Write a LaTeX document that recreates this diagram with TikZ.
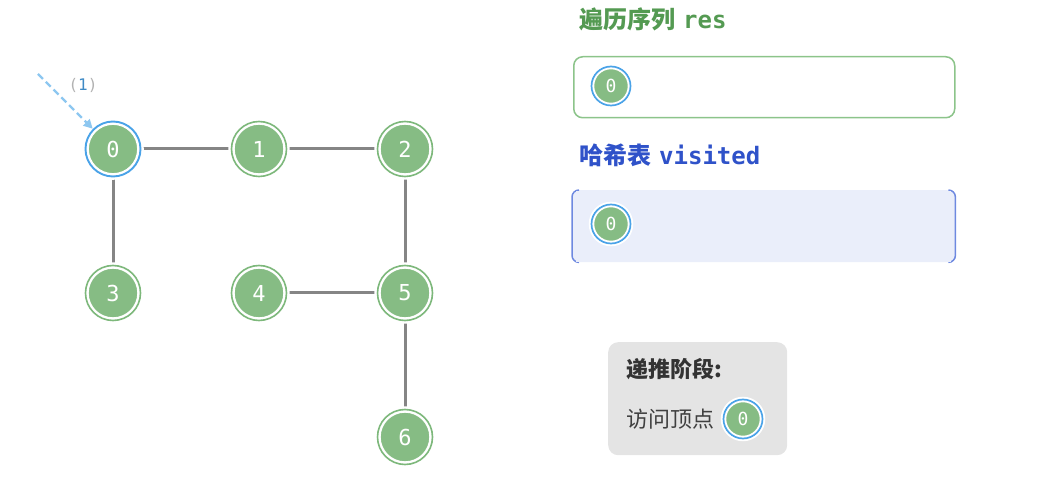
\documentclass[tikz,border=0pt]{standalone}
\usepackage{fontspec}
\setmainfont{Noto Sans CJK SC}
\setmonofont{DejaVu Sans Mono}
\newfontfamily\cjk{Noto Sans CJK SC}
\usetikzlibrary{arrows.meta}
\definecolor{vgreen}{HTML}{86BC84}
\definecolor{vring}{HTML}{7DB87B}
\definecolor{vblue}{HTML}{4AA3E8}
\definecolor{edgegray}{HTML}{858585}
\definecolor{tgreen}{HTML}{549A52}
\definecolor{tblue}{HTML}{2F52C9}
\definecolor{visfill}{HTML}{EAEEFA}
\definecolor{visline}{HTML}{6E89E0}
\definecolor{resline}{HTML}{8CC48A}
\definecolor{legfill}{HTML}{E4E4E4}
\definecolor{arrblue}{HTML}{8DC7F0}
\tikzset{
  vert/.style={circle, fill=vgreen, draw=white, line width=2.4pt, minimum size=55pt, inner sep=0pt,
    text=white, font=\ttfamily\fontsize{22}{22}\selectfont,
    double=vring, double distance=1.6pt},
  vsel/.style={circle, fill=vgreen, draw=white, line width=2.4pt, minimum size=55pt, inner sep=0pt,
    text=white, font=\ttfamily\fontsize{22}{22}\selectfont,
    double=vblue, double distance=1.9pt},
  small/.style={circle, fill=vgreen, draw=white, line width=1.9pt, minimum size=39pt, inner sep=0pt,
    text=white, font=\ttfamily\fontsize{18}{18}\selectfont,
    double=vblue, double distance=1.7pt},
  edge/.style={draw=edgegray, line width=3pt},
}
\begin{document}
\begin{tikzpicture}[x=1pt,y=-1pt]
\useasboundingbox (0,0) rectangle (1050,478);
% edges first
\coordinate (p0) at (113,149);
\coordinate (p1) at (259,149);
\coordinate (p2) at (405,149);
\coordinate (p3) at (113,293);
\coordinate (p4) at (259,293);
\coordinate (p5) at (405,293);
\coordinate (p6) at (405,437);
\draw[edge] (p0) -- (p1);
\draw[edge] (p1) -- (p2);
\draw[edge] (p0) -- (p3);
\draw[edge] (p2) -- (p5);
\draw[edge] (p4) -- (p5);
\draw[edge] (p5) -- (p6);
\node[vsel] (n0) at (p0) {0};
\node[vert] (n1) at (p1) {1};
\node[vert] (n2) at (p2) {2};
\node[vert] (n3) at (p3) {3};
\node[vert] (n4) at (p4) {4};
\node[vert] (n5) at (p5) {5};
\node[vert] (n6) at (p6) {6};
% dashed arrow
\coordinate (as) at (38,74);
\draw[arrblue, line width=2.4pt, dash pattern=on 7pt off 4pt, -{Triangle[length=9pt,width=9pt]}] (as) -- (n0.135);
\node[font=\ttfamily\fontsize{16}{16}\selectfont] (lab) at (83,85) {\textcolor{gray!60}{(}\textcolor{vblue!85!black}{1}\textcolor{gray!60}{)}};
% res
\node[anchor=west, text=tgreen, font=\cjk\bfseries\fontsize{24}{24}\selectfont, inner sep=0pt] (rest) at (579,19) {遍历序列\hspace{8pt}{\ttfamily\bfseries res}};
\node[draw=resline, line width=1.5pt, fill=white, rounded corners=9pt, minimum width=381pt, minimum height=61pt, anchor=north west] (resbox) at (573,56) {};
\node[small] (r0) at (611,86) {0};
% visited
\node[anchor=west, text=tblue, font=\cjk\bfseries\fontsize{24}{24}\selectfont, inner sep=0pt] (vist) at (579,155) {哈希表\hspace{8pt}{\ttfamily\bfseries visited}};
\node[fill=visfill, rounded corners=8pt, minimum width=383pt, minimum height=72pt, anchor=north west, inner sep=0pt] (visbox) at (572,190) {};
\draw[visline, line width=1.5pt, rounded corners=7pt] ([xshift=7pt]visbox.north west) -- (visbox.north west) -- (visbox.south west) -- ([xshift=7pt]visbox.south west);
\draw[visline, line width=1.5pt, rounded corners=7pt] ([xshift=-7pt]visbox.north east) -- (visbox.north east) -- (visbox.south east) -- ([xshift=-7pt]visbox.south east);
\fill[visfill] ([xshift=4pt,yshift=-0.75pt]visbox.north west) rectangle ([xshift=-4pt,yshift=-3pt]visbox.north east);
\fill[visfill] ([xshift=4pt,yshift=0.75pt]visbox.south west) rectangle ([xshift=-4pt,yshift=3pt]visbox.south east);
\node[small] (v0) at (611,224) {0};
% legend
\node[fill=legfill, rounded corners=10pt, minimum width=179pt, minimum height=113pt, anchor=north west] (leg) at (608,342) {};
\node[anchor=west, text=black!80, font=\cjk\bfseries\fontsize{22}{22}\selectfont, inner sep=0pt] (legt) at (626,369) {递推阶段:};
\node[anchor=west, text=black!75, font=\cjk\fontsize{22}{22}\selectfont, inner sep=0pt] (legv) at (626,419) {访问顶点};
\node[small] (l0) at (743,419) {0};
\end{tikzpicture}
\end{document}
